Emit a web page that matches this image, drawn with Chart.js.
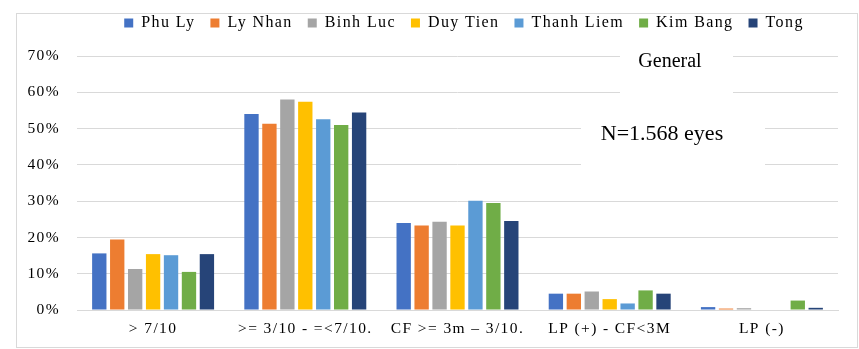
<!DOCTYPE html>
<html>
<head>
<meta charset="utf-8">
<script src="https://cdn.jsdelivr.net/npm/chart.js@4.4.1/dist/chart.umd.min.js"></script>
<style>
  body { margin: 0; background: #fff; }
  canvas { display: block; }
</style>
</head>
<body>
<canvas id="eyeChart" width="859" height="349"></canvas>
<script>
// categories on the x axis
const categories = ['> 7/10', '>= 3/10 - =<7/10.', 'CF >= 3m \u2013 3/10.', 'LP (+) - CF<3M', 'LP (-)'];

// percent values per district
const phuLy     = [15.6, 54.0, 24.0, 4.5, 0.8];
const lyNhan    = [19.4, 51.3, 23.3, 4.5, 0.4];
const binhLuc   = [11.3, 58.0, 24.3, 5.1, 0.5];
const duyTien   = [15.4, 57.4, 23.3, 3.0, 0];
const thanhLiem = [15.1, 52.6, 30.1, 1.8, 0];
const kimBang   = [10.5, 51.0, 29.5, 5.4, 2.6];
const tong      = [15.4, 54.4, 24.5, 4.5, 0.6];

const seriesNames = ['Phu Ly', 'Ly Nhan', 'Binh Luc', 'Duy Tien', 'Thanh Liem', 'Kim Bang', 'Tong'];
const seriesColors = ['#4472C4', '#ED7D31', '#A5A5A5', '#FFC000', '#5B9BD5', '#70AD47', '#264478'];
const seriesValues = [phuLy, lyNhan, binhLuc, duyTien, thanhLiem, kimBang, tong];

const yTicks = [0, 10, 20, 30, 40, 50, 60, 70];

const titleText = 'General';
const noteText = 'N=1.568 eyes';

const serif = "'Liberation Serif', 'Times New Roman', serif";

// wide-looking text like the original
const spacingPlugin = {
    id: 'spacing',
    beforeUpdate: (chart) => { chart.ctx.letterSpacing = '1.4px'; },
    afterLayout: (chart) => {
        // legend sits a bit right of centre and close to the top in the original
        const lg = chart.legend;
        const dx = 464 - (lg.left + lg.right) / 2;
        lg.left += dx;
        lg.right += dx;
        lg.top -= 15;
        lg.bottom -= 15;
    },
    beforeDraw: (chart) => {
        const {ctx} = chart;
        ctx.letterSpacing = '1.4px';
        ctx.save();
        ctx.strokeStyle = '#d9d9d9';
        ctx.lineWidth = 1;
        ctx.strokeRect(16.5, 13.5, 841, 334);
        ctx.restore();
    }
};

// white boxes with the two notes, over the grid
const notesPlugin = {
    id: 'notes',
    beforeDatasetsDraw: (chart) => {
        const {ctx} = chart;
        ctx.save();
        ctx.letterSpacing = '0px';
        ctx.fillStyle = '#fff';
        ctx.fillRect(620, 44, 113, 56);
        ctx.fillRect(581, 108, 184, 76);
        ctx.fillStyle = '#000';
        ctx.textAlign = 'center';
        ctx.textBaseline = 'middle';
        ctx.font = '20px ' + serif;
        ctx.fillText(titleText, 670, 62);
        ctx.font = '22px ' + serif;
        ctx.fillText(noteText, 662, 134);
        ctx.restore();
    }
};

const ctx = document.getElementById('eyeChart');
new Chart(ctx, {
    type: 'bar',
    data: {
        labels: categories,
        datasets: seriesNames.map((name, i) => ({
            label: name,
            data: seriesValues[i],
            backgroundColor: seriesColors[i],
            borderWidth: 0,
            barPercentage: 0.8,
            categoryPercentage: 0.825
        }))
    },
    options: {
        responsive: false,
        animation: false,
        layout: { padding: { left: 0, right: 21, top: 15, bottom: 0 } },
        plugins: {
            legend: {
                position: 'top',
                labels: {
                    boxWidth: 9,
                    boxHeight: 9,
                    padding: 15,
                    color: '#000',
                    font: { family: serif, size: 16 }
                }
            },
            tooltip: { enabled: false }
        },
        scales: {
            x: {
                grid: { display: false },
                border: { color: '#d9d9d9', width: 1 },
                ticks: {
                    color: '#000',
                    padding: 2,
                    maxRotation: 0,
                    autoSkip: false,
                    font: { family: serif, size: 15.5 }
                },
                afterFit: (scale) => { scale.height = 39; }
            },
            y: {
                min: 0,
                max: 70,
                afterBuildTicks: (scale) => { scale.ticks = yTicks.map(v => ({ value: v })); },
                grid: { color: '#d9d9d9', lineWidth: 1, drawTicks: false },
                border: { display: false },
                ticks: {
                    color: '#000',
                    padding: 17,
                    font: { family: serif, size: 15.5 },
                    callback: (v) => v + '%'
                },
                afterFit: (scale) => { scale.width = 77; }
            }
        }
    },
    plugins: [spacingPlugin, notesPlugin]
});
</script>
</body>
</html>
